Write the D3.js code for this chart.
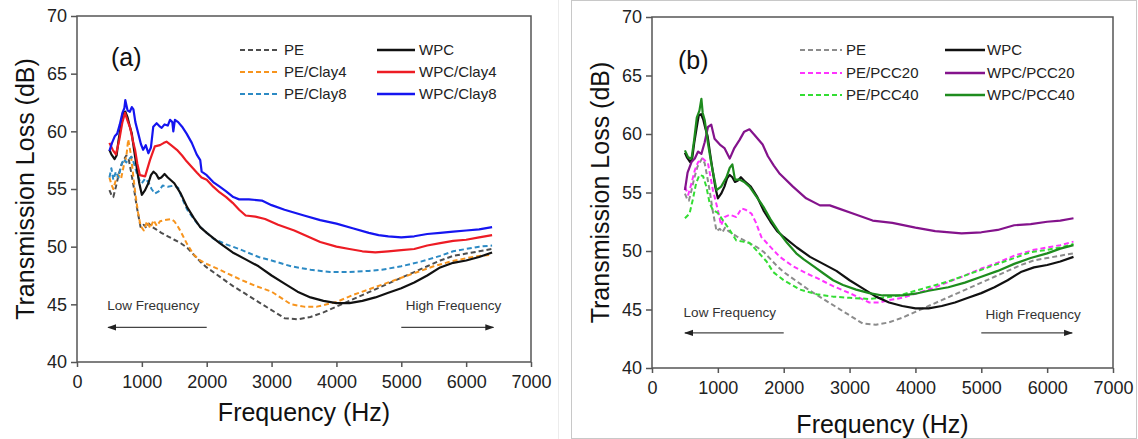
<!DOCTYPE html>
<html>
<head>
<meta charset="utf-8">
<script src="https://cdn.jsdelivr.net/npm/d3@7"></script>
<style>
  body { margin: 0; background: #fff; }
  svg { display: block; }
  text { font-family: Arial, "Liberation Sans", sans-serif; }
</style>
</head>
<body>
<svg id="chart" width="1138" height="439"></svg>
<script>
// axis ticks
const xTicks = [0, 1000, 2000, 3000, 4000, 5000, 6000, 7000];
const yTicks = [40, 45, 50, 55, 60, 65, 70];

// [frequency Hz, transmission loss dB]
const pe = [[500,54.9],[530,54.5],[560,54.3],[600,55.2],[640,56.2],[690,57.2],[730,57.6],[760,57.9],[800,57.5],[840,56.3],[880,55.0],[920,53.5],[950,52.6],[980,51.7],[1030,51.9],[1070,51.6],[1110,52.0],[1160,51.7],[1220,51.5],[1300,51.2],[1400,50.9],[1500,50.6],[1600,50.3],[1700,49.9],[1800,49.3],[1900,48.7],[2000,48.2],[2200,47.4],[2400,46.6],[2600,45.9],[2800,45.2],[3000,44.5],[3200,43.8],[3400,43.7],[3600,43.9],[3800,44.3],[4000,44.8],[4200,45.3],[4400,45.8],[4600,46.3],[4800,46.8],[5000,47.3],[5200,47.8],[5400,48.3],[5600,48.8],[5800,49.2],[6000,49.4],[6200,49.6],[6400,49.8]];
const peClay4 = [[500,56.0],[530,55.4],[560,55.0],[600,55.8],[640,56.2],[680,55.9],[720,57.0],[760,57.8],[790,59.3],[830,58.0],[860,56.5],[900,54.6],[940,53.0],[980,51.8],[1030,51.4],[1080,52.2],[1130,51.6],[1180,52.3],[1230,51.8],[1280,52.2],[1350,52.3],[1450,52.4],[1500,52.2],[1550,51.8],[1600,51.3],[1700,50.2],[1800,49.3],[1900,48.8],[2000,48.5],[2200,48.0],[2500,47.2],[2750,46.6],[3000,46.1],[3300,45.0],[3500,44.8],[3700,44.8],[4000,45.2],[4250,45.8],[4500,46.3],[4750,46.8],[5000,47.3],[5250,47.8],[5500,48.3],[5750,48.7],[6000,49.0],[6200,49.2],[6400,49.3]];
const peClay8 = [[500,56.0],[530,56.8],[560,55.8],[600,56.5],[640,56.0],[680,57.0],[720,57.6],[760,57.3],[800,57.6],[840,57.8],[880,57.2],[920,56.4],[960,55.8],[1000,55.5],[1050,55.9],[1100,55.6],[1150,55.0],[1200,54.6],[1260,54.8],[1320,55.3],[1400,55.2],[1500,55.3],[1560,55.1],[1620,54.2],[1700,53.2],[1800,52.4],[1900,51.7],[2000,51.2],[2100,50.7],[2300,50.2],[2500,49.8],[2800,49.1],[3000,48.8],[3300,48.3],[3600,48.0],[3900,47.8],[4200,47.8],[4500,47.9],[4700,48.0],[5000,48.3],[5300,48.7],[5600,49.2],[5800,49.6],[6000,49.8],[6200,50.0],[6400,50.1]];
const wpc = [[500,58.4],[530,58.0],[580,57.6],[610,57.9],[640,59.2],[680,60.6],[710,61.6],[745,61.7],[780,61.2],[810,60.5],[845,59.8],[880,58.4],[920,56.9],[960,55.5],[1000,54.5],[1050,54.9],[1100,55.5],[1140,56.2],[1180,56.5],[1220,56.3],[1260,55.9],[1300,56.0],[1350,56.3],[1400,56.0],[1500,55.5],[1600,54.6],[1700,53.4],[1800,52.5],[1900,51.7],[2000,51.2],[2200,50.3],[2400,49.5],[2600,48.9],[2800,48.3],[3000,47.5],[3200,46.8],[3400,46.1],[3600,45.6],[3800,45.3],[4000,45.1],[4200,45.1],[4400,45.3],[4600,45.6],[4800,46.0],[5000,46.4],[5200,46.9],[5400,47.5],[5600,48.2],[5800,48.6],[6000,48.8],[6200,49.1],[6400,49.5]];
const wpcClay4 = [[500,59.0],[550,58.4],[600,58.0],[650,59.2],[700,60.8],[740,61.6],[780,60.9],[820,60.3],[860,59.2],[895,58.4],[930,57.2],[970,56.2],[1050,56.1],[1125,57.5],[1200,58.7],[1280,58.8],[1340,59.0],[1380,59.1],[1450,58.8],[1540,58.4],[1620,57.9],[1690,57.4],[1770,56.9],[1850,56.4],[1920,56.0],[2000,55.8],[2100,55.2],[2200,54.7],[2300,54.3],[2400,53.8],[2500,53.2],[2600,52.7],[2750,52.6],[2900,52.4],[3100,51.9],[3350,51.4],[3550,50.9],[3750,50.4],[4000,50.0],[4200,49.8],[4400,49.6],[4600,49.5],[4800,49.6],[5000,49.7],[5200,49.8],[5400,50.1],[5600,50.3],[5800,50.5],[6000,50.6],[6200,50.8],[6400,51.0]];
const wpcClay8 = [[500,58.3],[540,59.0],[585,59.6],[620,59.8],[660,60.6],[700,61.6],[730,62.0],[745,62.7],[780,61.8],[815,61.7],[845,62.1],[870,61.9],[900,60.8],[945,59.8],[985,58.9],[1020,58.4],[1060,58.8],[1100,58.1],[1140,58.6],[1176,60.4],[1228,60.7],[1280,60.4],[1305,60.3],[1350,60.6],[1400,60.5],[1434,61.0],[1470,60.8],[1485,60.0],[1510,61.0],[1560,60.8],[1620,60.4],[1690,59.8],[1770,59.0],[1845,58.0],[1900,57.5],[1922,56.5],[2000,56.2],[2100,55.6],[2200,55.2],[2300,54.8],[2410,54.3],[2500,54.1],[2650,54.1],[2850,54.0],[3000,53.6],[3200,53.2],[3500,52.7],[3750,52.3],[4000,52.0],[4250,51.6],[4500,51.2],[4650,51.0],[4800,50.9],[5000,50.8],[5200,50.9],[5400,51.1],[5600,51.2],[5800,51.3],[6000,51.4],[6200,51.5],[6400,51.7]];
const pePcc20 = [[500,55.5],[550,54.8],[600,55.8],[650,56.9],[700,57.6],[770,57.9],[850,57.5],[925,55.2],[1000,53.5],[1050,52.2],[1100,52.9],[1180,53.1],[1280,52.9],[1360,53.65],[1430,53.5],[1510,53.2],[1580,52.4],[1660,51.2],[1790,50.4],[1940,49.5],[2140,48.7],[2340,48.1],[2500,47.7],[2750,47.0],[3000,46.4],[3150,46.0],[3300,45.6],[3450,45.6],[3600,45.8],[3800,46.0],[4000,46.35],[4250,46.8],[4500,47.35],[4750,47.9],[5000,48.5],[5250,49.0],[5500,49.6],[5800,50.1],[6000,50.3],[6200,50.5],[6400,50.8]];
const pePcc40 = [[500,52.8],[570,53.2],[620,54.4],[670,55.8],[720,56.5],[775,56.4],[825,55.5],[875,54.1],[925,53.5],[1000,53.25],[1080,52.6],[1180,51.8],[1280,50.9],[1380,50.8],[1480,50.7],[1580,50.1],[1740,49.1],[1840,48.2],[2000,47.5],[2250,46.7],[2500,46.3],[2750,46.1],[3000,46.0],[3300,45.9],[3500,46.0],[3750,46.2],[4000,46.6],[4250,47.0],[4500,47.4],[4750,47.9],[5000,48.4],[5250,48.9],[5500,49.4],[5750,49.9],[6000,50.1],[6200,50.3],[6400,50.6]];
const wpcPcc20 = [[500,55.2],[540,56.7],[600,57.6],[650,57.9],[700,58.5],[750,58.3],[800,59.3],[850,60.6],[900,60.8],[950,59.6],[1030,59.1],[1100,58.8],[1180,57.9],[1250,58.8],[1330,59.5],[1400,60.2],[1480,60.4],[1560,59.9],[1680,59.1],[1760,58.1],[1850,57.3],[1940,56.6],[2140,55.5],[2340,54.5],[2550,53.9],[2700,53.9],[2850,53.6],[3050,53.2],[3350,52.6],[3650,52.4],[4000,52.0],[4300,51.7],[4700,51.5],[5000,51.6],[5250,51.8],[5500,52.2],[5750,52.3],[6000,52.5],[6200,52.6],[6400,52.8]];
const wpcPcc40 = [[500,58.6],[550,58.0],[600,57.9],[640,59.5],[680,61.4],[720,62.0],[750,63.0],[770,61.8],[800,61.2],[850,59.2],[900,57.5],[980,55.2],[1050,55.5],[1130,56.3],[1180,57.1],[1220,57.4],[1260,56.1],[1330,56.1],[1400,55.9],[1480,55.5],[1580,54.7],[1690,53.8],[1800,52.7],[1940,51.5],[2050,50.7],[2190,49.8],[2300,49.3],[2450,48.7],[2600,48.1],[2750,47.5],[2900,47.1],[3100,46.7],[3300,46.4],[3500,46.2],[3800,46.2],[4000,46.35],[4200,46.6],[4500,46.9],[4750,47.3],[5000,47.8],[5250,48.3],[5500,48.9],[5750,49.4],[6000,49.8],[6200,50.2],[6400,50.5]];

const panelA = {
  left: 77, top: 16, width: 454, height: 346,
  tag: "(a)", tagX: 34, tagY: 66,
  xTitleDy: 59,
  legend: { rows: [50, 72, 94], c1: [240, 280, 284], c2: [377, 415, 419] },
  series: [
    { name: "PE", data: pe, color: "#4d4d4d", dashed: true },
    { name: "PE/Clay4", data: peClay4, color: "#f7941d", dashed: true },
    { name: "PE/Clay8", data: peClay8, color: "#2c8ac4", dashed: true },
    { name: "WPC", data: wpc, color: "#111111", dashed: false },
    { name: "WPC/Clay4", data: wpcClay4, color: "#ed1c24", dashed: false },
    { name: "WPC/Clay8", data: wpcClay8, color: "#1515f0", dashed: false },
  ],
  low: { text: 465, y: 44.9, from: 2000, to: 480, ay: 43 },
  high: { text: 6540, y: 44.9, from: 5000, to: 6420, ay: 43 },
};

const panelB = {
  left: 652, top: 17, width: 461, height: 351,
  tag: "(b)", tagX: 26, tagY: 69,
  xTitleDy: 65,
  legend: { rows: [50, 73, 95], c1: [800, 842, 846], c2: [945, 985, 987] },
  series: [
    { name: "PE", data: pe, color: "#8c8c8c", dashed: true },
    { name: "PE/PCC20", data: pePcc20, color: "#ff33ff", dashed: true },
    { name: "PE/PCC40", data: pePcc40, color: "#33dd33", dashed: true },
    { name: "WPC", data: wpc, color: "#111111", dashed: false },
    { name: "WPC/PCC20", data: wpcPcc20, color: "#84138c", dashed: false },
    { name: "WPC/PCC40", data: wpcPcc40, color: "#1e8c1e", dashed: false },
  ],
  low: { text: 480, y: 44.8, from: 2000, to: 500, ay: 43 },
  high: { text: 6510, y: 44.6, from: 5000, to: 6380, ay: 43 },
};

const svg = d3.select("#chart");

// light frame round the right panel
svg.append("line").attr("x1", 558.5).attr("x2", 558.5).attr("y1", 0).attr("y2", 439)
  .attr("stroke", "#ececec");
svg.append("rect").attr("x", 571.5).attr("y", 0.5).attr("width", 565).attr("height", 438)
  .attr("fill", "none").attr("stroke", "#c8c8c8");

svg.append("defs").append("marker")
  .attr("id", "arrow")
  .attr("viewBox", "0 0 10 10")
  .attr("refX", 9).attr("refY", 5)
  .attr("markerWidth", 9).attr("markerHeight", 9)
  .attr("markerUnits", "userSpaceOnUse")
  .attr("orient", "auto")
  .append("path").attr("d", "M0,1.5L10,5L0,8.5Z").attr("fill", "#222");

function drawPanel(cfg) {
  const g = svg.append("g").attr("transform", `translate(${cfg.left},${cfg.top})`);
  const x = d3.scaleLinear().domain([0, 7000]).range([0, cfg.width]);
  const y = d3.scaleLinear().domain([40, 70]).range([cfg.height, 0]);

  const xAxis = g.append("g")
    .attr("transform", `translate(0,${cfg.height})`)
    .call(d3.axisBottom(x).tickValues(xTicks).tickFormat(d3.format("d")).tickSizeOuter(0).tickSize(5).tickPadding(8));
  const yAxis = g.append("g")
    .call(d3.axisLeft(y).tickValues(yTicks).tickSizeOuter(0).tickSize(6).tickPadding(4));
  [xAxis, yAxis].forEach((a) => {
    a.select(".domain").remove();
    a.selectAll("line").attr("stroke", "#555").attr("stroke-width", 1.5);
    a.selectAll("text").attr("font-size", 18).attr("fill", "#222")
      .attr("font-family", "Arial, 'Liberation Sans', sans-serif");
  });

  g.append("rect")
    .attr("width", cfg.width).attr("height", cfg.height)
    .attr("fill", "none").attr("stroke", "#555").attr("stroke-width", 1.5);

  const line = d3.line().x((d) => x(d[0])).y((d) => y(d[1]));

  g.selectAll(".series")
    .data(cfg.series)
    .join("path")
    .attr("class", "series")
    .attr("d", (d) => line(d.data))
    .attr("fill", "none")
    .attr("stroke", (d) => d.color)
    .attr("stroke-width", (d) => (d.dashed ? 2 : 2.2))
    .attr("stroke-dasharray", (d) => (d.dashed ? "5,3" : null))
    .attr("stroke-linejoin", "round");

  // frequency hints
  const hint = (h, anchor, label) => {
    g.append("text")
      .attr("x", x(h.text)).attr("y", y(h.y))
      .attr("dy", "0.35em")
      .attr("text-anchor", anchor)
      .attr("font-family", "'DejaVu Sans', sans-serif")
      .attr("font-size", 13.5)
      .attr("fill", "#333")
      .text(label);
    g.append("line")
      .attr("x1", x(h.from)).attr("x2", x(h.to))
      .attr("y1", y(h.ay)).attr("y2", y(h.ay))
      .attr("stroke", "#444").attr("stroke-width", 1.2)
      .attr("marker-end", "url(#arrow)");
  };
  hint(cfg.low, "start", "Low Frequency");
  hint(cfg.high, "end", "High Frequency");

  g.append("text")
    .attr("x", cfg.tagX).attr("y", cfg.tagY - cfg.top)
    .attr("font-size", 25).attr("fill", "#111")
    .text(cfg.tag);

  // axis titles
  g.append("text")
    .attr("x", cfg.width / 2).attr("y", cfg.height + cfg.xTitleDy)
    .attr("text-anchor", "middle")
    .attr("font-size", 25).attr("fill", "#111")
    .text("Frequency (Hz)");
  g.append("text")
    .attr("transform", `translate(-52,${cfg.height / 2}) rotate(-90)`)
    .attr("dy", "0.35em")
    .attr("text-anchor", "middle")
    .attr("font-size", 25).attr("fill", "#111")
    .text("Transmission Loss (dB)");

  // legend, absolute coordinates
  const lg = svg.append("g");
  const leg = cfg.legend;
  cfg.series.forEach((s, i) => {
    const col = i < 3 ? leg.c1 : leg.c2;
    const ry = leg.rows[i % 3];
    lg.append("line")
      .attr("x1", col[0]).attr("x2", col[1])
      .attr("y1", ry).attr("y2", ry)
      .attr("stroke", s.color)
      .attr("stroke-width", s.dashed ? 2 : 2.4)
      .attr("stroke-dasharray", s.dashed ? "5,3" : null);
    lg.append("text")
      .attr("x", col[2]).attr("y", ry)
      .attr("dy", "0.35em")
      .attr("font-size", 15).attr("fill", "#222")
      .text(s.name);
  });
}

drawPanel(panelA);
drawPanel(panelB);
</script>
</body>
</html>
